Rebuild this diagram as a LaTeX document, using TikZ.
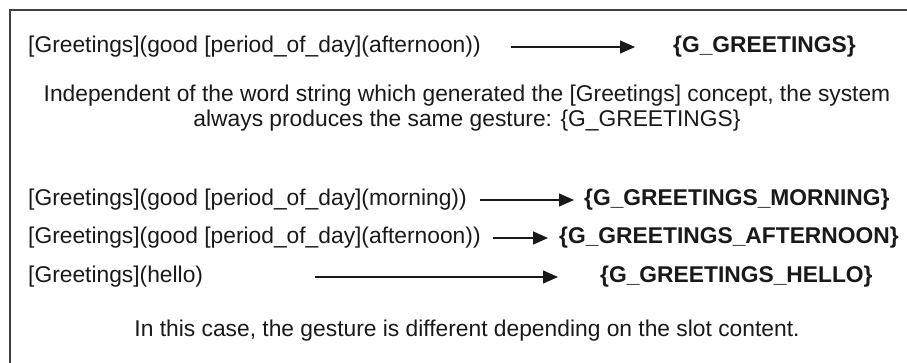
\documentclass[tikz,border=0pt]{standalone}
\usepackage{fontspec}
\setmainfont{Liberation Sans}
\usetikzlibrary{arrows.meta}
\begin{document}
\begin{tikzpicture}[x=1pt,y=-1pt,
  txt/.style={inner sep=0pt, anchor=west, font=\fontsize{22.8}{27}\selectfont, text=black!90},
  bold/.style={txt, font=\fontsize{22.8}{27}\selectfont\bfseries},
  para/.style={inner sep=0pt, align=center, font=\fontsize{22.8}{25.5}\selectfont, text=black!90},
  arr/.style={line width=1.4pt, draw=black!90, -{Triangle[length=15pt,width=13pt]}},
  frame/.style={line width=1.6pt, draw=black!75}]
\useasboundingbox (0,0) rectangle (907,363);
\begin{scope}
\clip (0,0) rectangle (907,363);
\draw[frame] (10,10) rectangle (930,400);
\end{scope}
% row 1
\node[txt] (s1) at (28,47) {[Greetings](good [period\_of\_day](afternoon))};
\node[bold] (t1) at (673,47) {\{G\_GREETINGS\}};
\draw[arr] ([xshift=30pt]s1.east) -- ([xshift=-38pt]t1.west);
% paragraph
\node[para] (p1) at (467,108) {Independent of the word string which generated the [Greetings] concept, the system\\always produces the same gesture: \{G\_GREETINGS\}};
% rows 2-4
\node[txt] (s2) at (28,200) {[Greetings](good [period\_of\_day](morning))};
\node[bold] (t2) at (584,200) {\{G\_GREETINGS\_MORNING\}};
\draw[arr] ([xshift=13pt]s2.east) -- ([xshift=-10pt]t2.west);
\node[txt] (s3) at (28,238) {[Greetings](good [period\_of\_day](afternoon))};
\node[bold] (t3) at (559,238) {\{G\_GREETINGS\_AFTERNOON\}};
\draw[arr] ([xshift=12pt]s3.east) -- ([xshift=-11pt]t3.west);
\node[txt] (s4) at (28,277) {[Greetings](hello)};
\node[bold] (t4) at (600,277) {\{G\_GREETINGS\_HELLO\}};
\draw[arr] ([xshift=112pt]s4.east) -- ([xshift=-42pt]t4.west);
% bottom note
\node[para] (n1) at (467,331) {In this case, the gesture is different depending on the slot content.};
\end{tikzpicture}
\end{document}
